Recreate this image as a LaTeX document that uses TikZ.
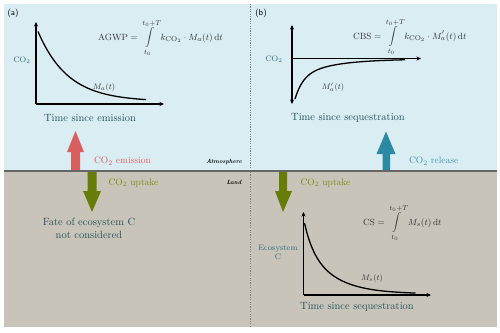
\documentclass[tikz,border=0pt]{standalone}
\usepackage{amsmath}
\usetikzlibrary{arrows.meta}
\definecolor{sky}{HTML}{D9EDF3}
\definecolor{land}{HTML}{C9C4B9}
\definecolor{bnd}{HTML}{666666}
\definecolor{redarr}{HTML}{D95F5F}
\definecolor{grnarr}{HTML}{687C0A}
\definecolor{grntxt}{HTML}{7D8C15}
\definecolor{tealarr}{HTML}{2B8AA1}
\definecolor{tealtxt}{HTML}{3F97AD}
\definecolor{darktxt}{HTML}{23525E}
\definecolor{axlab}{HTML}{2F6E7E}
\definecolor{eqtxt}{HTML}{333333}
\begin{document}
\begin{tikzpicture}[x=1pt,y=-1pt,
  axis/.style={line width=1.1pt,-{Stealth[length=4.5pt,width=4pt]}},
  curve/.style={line width=1.3pt},
  timelab/.style={text=darktxt,font=\fontsize{10.5}{12}\selectfont,inner sep=0pt},
  axislab/.style={text=axlab,font=\fontsize{8}{9}\selectfont,inner sep=0pt,align=center},
  fluxlab/.style={font=\fontsize{9.5}{11}\selectfont,inner sep=0pt},
  eqlab/.style={text=eqtxt,font=\fontsize{9.5}{11}\selectfont,inner sep=0pt,anchor=west},
  curvelab/.style={text=eqtxt,font=\fontsize{8.5}{10}\selectfont,inner sep=0pt},
  zonelab/.style={font=\fontsize{6}{7}\selectfont\itshape\bfseries,inner sep=0pt},
  panellab/.style={font=\fontsize{8.5}{10}\selectfont\sffamily,inner sep=0pt}]
\useasboundingbox (0,0) rectangle (500,332);
\fill[white] (0,0) rectangle (500,332);
% background zones
\fill[sky] (4,4) rectangle (497,171);
\fill[land] (4,171) rectangle (497,327);
% divider
\draw[gray,line width=0.8pt,dash pattern=on 1.2pt off 1.2pt] (250,4) -- (250,327);

% ---------- panel (a)
\node[panellab] (pa) at (13,13) {(a)};
\coordinate (oa) at (36,104);
\coordinate (ya) at (36,22);
\coordinate (xa) at (164,104);
\draw[axis] (oa) -- (ya);
\draw[axis] (oa) -- (xa);
\draw[curve] plot[domain=0:108,samples=80] ({38+\x},{101.5-70*exp(-\x/30)});
\node[axislab] (coa) at (22,60) {CO$_2$};
\node[curvelab] (maa) at (104,87) {$M_a(t)$};
\node[eqlab] (agwp) at (98,38) {$\mathrm{AGWP}=\displaystyle\int\limits_{\vphantom{|}t_0}^{t_0+T\vphantom{|}} k_{\mathrm{CO}_2}\cdot M_a(t)\,\mathrm{d}t$};
\node[timelab] (tse) at (90,118) {Time since emission};

% red emission arrow
\fill[redarr] (71,171) -- (71,152) -- (67,152) -- (75.5,131) -- (84,152) -- (80,152) -- (80,171) -- cycle;
\node[fluxlab,text=redarr] (emi) at (122.5,161) {CO$_2$ emission};
% green uptake arrow (a)
\fill[grnarr] (87.5,171) -- (87.5,191) -- (83,191) -- (92,212) -- (101,191) -- (96.5,191) -- (96.5,171) -- cycle;
\node[fluxlab,text=grntxt] (upa) at (133.5,183) {CO$_2$ uptake};
\node[timelab,align=center] (fate) at (89,228) {Fate of ecosystem C\\[1pt]not considered};

\node[zonelab] (atm) at (224,162) {Atmosphere};
\node[zonelab] (lnd) at (234,182) {Land};

% ---------- panel (b)
\node[panellab] (pb) at (261,13) {(b)};
\coordinate (yb1) at (292,25);
\coordinate (yb2) at (292,104);
\coordinate (ob) at (292,58.5);
\coordinate (xb) at (421,58.5);
\draw[line width=1.1pt,{Stealth[length=4.5pt,width=4pt]}-{Stealth[length=4.5pt,width=4pt]}] (yb2) -- (yb1);
\draw[axis] (ob) -- (xb);
\draw[curve] plot[domain=0:110,samples=100] ({295+\x},{59+40*(0.55*exp(-\x/8)+0.45*exp(-\x/35))});
\node[axislab] (cob) at (274,59) {CO$_2$};
\node[curvelab] (mab) at (333,87) {$M'_a(t)$};
\node[eqlab] (cbs) at (353,37) {$\mathrm{CBS}=\displaystyle\int\limits_{\vphantom{|}t_0}^{t_0+T\vphantom{|}} k_{\mathrm{CO}_2}\cdot M'_a(t)\,\mathrm{d}t$};
\node[timelab] (tss1) at (348,118) {Time since sequestration};

% teal release arrow
\fill[tealarr] (382.5,171) -- (382.5,154) -- (376.5,154) -- (386,131.5) -- (395.5,154) -- (390,154) -- (390,171) -- cycle;
\node[fluxlab,text=tealtxt] (rel) at (433.7,161) {CO$_2$ release};
% green uptake arrow (b)
\fill[grnarr] (279,171) -- (279,191) -- (275,191) -- (283,212) -- (292,191) -- (287,191) -- (287,171) -- cycle;
\node[fluxlab,text=grntxt] (upb) at (325.5,183) {CO$_2$ uptake};

\coordinate (os) at (303.5,295);
\coordinate (ys) at (303.5,212);
\coordinate (xs) at (431,295);
\draw[axis] (os) -- (ys);
\draw[axis] (os) -- (xs);
\draw[curve] plot[domain=0:111,samples=100] ({304.5+\x},{294-71*(0.3*exp(-\x/8)+0.7*exp(-\x/28))});
\node[axislab] (eco) at (278,252) {Ecosystem\\C};
\node[curvelab] (ms) at (372,278) {$M_s(t)$};
\node[eqlab] (cs) at (363,223) {$\mathrm{CS}=\displaystyle\int\limits_{\vphantom{|}t_0}^{t_0+T\vphantom{|}} M_s(t)\,\mathrm{d}t$};
\node[timelab] (tss2) at (357,307) {Time since sequestration};

% boundary line
\draw[bnd,line width=1.8pt] (4,171) -- (497,171);
\end{tikzpicture}
\end{document}
